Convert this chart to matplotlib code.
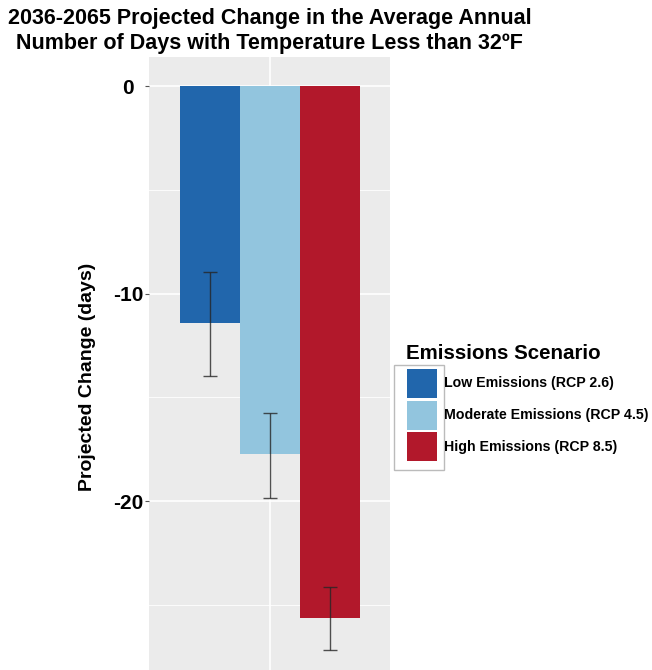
import matplotlib
matplotlib.use("Agg")
import matplotlib.pyplot as plt
from matplotlib.patches import Rectangle

plt.rcParams['font.family'] = ['Liberation Sans', 'DejaVu Sans']

# ---- data ----
scenarios = ["Low Emissions (RCP 2.6)", "Moderate Emissions (RCP 4.5)", "High Emissions (RCP 8.5)"]
change = [-11.44, -17.75, -25.65]
err_high = [-8.98, -15.74, -24.16]
err_low = [-13.96, -19.83, -27.18]
colors = ["#2166AC", "#92C5DE", "#B2182B"]
yticks = [0, -10, -20]
minor_yticks = [-5, -15, -25]

W, H = 652, 670
fig = plt.figure(figsize=(W / 100, H / 100), dpi=100)

def fx(px):
    return px / W

def fy(py):
    return 1 - py / H

pl, pr, pt, pb = 149, 390, 57, 682
ax = fig.add_axes([fx(pl), fy(pb), (pr - pl) / W, (pb - pt) / H])
ax.set_facecolor("#EBEBEB")
for s in ax.spines.values():
    s.set_visible(False)

xpos = [-0.3, 0.0, 0.3]
ax.bar(xpos, change, width=0.3, color=colors, zorder=3)
yerr = [[c - lo for c, lo in zip(change, err_low)], [hi - c for c, hi in zip(change, err_high)]]
ax.errorbar(xpos, change, yerr=yerr, fmt='none', ecolor=(0.15, 0.15, 0.15, 0.8),
            elinewidth=1.0, capsize=4.7, capthick=1.0, zorder=4)

ax.set_xlim(-0.6025, 0.6025)
ax.set_ylim(-28.72, 1.40)
ax.set_yticks(yticks)
ax.set_yticklabels([str(t) for t in yticks], fontsize=15, fontweight='bold', ha='center')
ax.set_yticks(minor_yticks, minor=True)
ax.set_xticks([0.0])
ax.set_xticklabels([""])
ax.tick_params(axis='x', length=0)
ax.tick_params(axis='y', which='major', length=3, width=0.8, color="#555555", pad=12)
ax.tick_params(axis='y', which='minor', length=0)
ax.grid(True, which='major', color='white', linewidth=1.2, zorder=0)
ax.grid(True, which='minor', axis='y', color='white', linewidth=0.6, zorder=0)
ax.set_axisbelow(True)

fig.text(fx(87), fy(377), "Projected Change (days)", rotation=90, fontsize=14,
         fontweight='bold', ha='center', va='center')

fig.text(fx(269.5), fy(31), "2036-2065 Projected Change in the Average Annual\nNumber of Days with Temperature Less than 32ºF",
         fontsize=15.5, fontweight='bold', ha='center', va='center', linespacing=1.3)

# ---- legend ----
fig.text(fx(405.7), fy(353), "Emissions Scenario", fontsize=14.8, fontweight='bold',
         ha='left', va='center')
fig.patches.append(Rectangle((fx(394), fy(470)), (444 - 394) / W, (470 - 365) / H,
                             transform=fig.transFigure, facecolor='white',
                             edgecolor='#BBBBBB', linewidth=1.0))
key_tops = [369, 401, 432]
for lab, col, kt in zip(scenarios, colors, key_tops):
    fig.patches.append(Rectangle((fx(407), fy(kt + 29)), 30 / W, 29 / H,
                                 transform=fig.transFigure, facecolor=col, edgecolor='none'))
    fig.text(fx(444.5), fy(kt + 14.5), lab, fontsize=10.2, fontweight='bold',
             ha='left', va='center')

fig.savefig("out.png", dpi=100, facecolor='white')
